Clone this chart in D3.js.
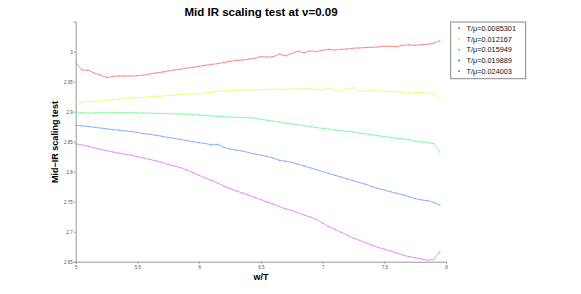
<!DOCTYPE html>
<html><head><meta charset="utf-8">
<script src="https://cdn.jsdelivr.net/npm/d3@7"></script>
<style>body{margin:0;background:#fff}svg{display:block}text{font-family:"Liberation Sans",Arial,sans-serif}</style>
</head><body><svg id="c" width="581" height="294"></svg>
<script>
const title = "Mid IR scaling test at \u03BD=0.09";
const xLabel = "w/T";
const yLabel = "Mid\u2212IR scaling test";
const xTicks = [5, 5.5, 6, 6.5, 7, 7.5, 8];
const yTicks = [2.65, 2.7, 2.75, 2.8, 2.85, 2.9, 2.95, 3];
const seriesNames = ["T/\u03BC=0.0085301","T/\u03BC=0.012167","T/\u03BC=0.015949","T/\u03BC=0.019889","T/\u03BC=0.024003"];
const seriesColors = ["#ff9090","#eeff80","#88ffaa","#90b4ff","#f090ff"];
const markerColors = ["#ff4040","#d8f040","#40f070","#4080ff","#e040ff"];
const wT = [5.00,5.05,5.10,5.15,5.20,5.25,5.30,5.35,5.40,5.45,5.50,5.55,5.60,5.65,5.70,5.75,5.80,5.85,5.90,5.95,
6.00,6.05,6.10,6.15,6.20,6.25,6.30,6.35,6.40,6.45,6.50,6.55,6.60,6.65,6.70,6.75,6.80,6.85,6.90,6.95,
7.00,7.05,7.10,7.15,7.20,7.25,7.30,7.35,7.40,7.45,7.50,7.55,7.60,7.65,7.70,7.75,7.80,7.85,7.90,7.95];
const red = [2.982,2.9695,2.969,2.9645,2.961,2.957,2.9587,2.9595,2.9595,2.9595,2.960,2.961,2.963,2.9645,2.966,2.968,2.9695,2.9707,2.9728,2.974,
2.9757,2.9773,2.9787,2.980,2.982,2.984,2.9853,2.986,2.9878,2.989,2.9917,2.991,2.9917,2.9962,2.9933,2.997,3.001,2.998,3.0012,3.0003,
3.0023,3.004,3.0028,3.004,3.0045,3.0057,3.0062,3.007,3.0073,3.0078,3.0092,3.009,3.0083,3.0107,3.0115,3.0107,3.0115,3.0123,3.0142,3.0183];
const yellow = [2.9157,2.916,2.9173,2.9173,2.918,2.919,2.920,2.9207,2.9215,2.9225,2.9233,2.924,2.9248,2.9257,2.926,2.927,2.9278,2.9287,2.9292,2.9295,
2.930,2.9312,2.9323,2.9337,2.9345,2.935,2.9358,2.936,2.936,2.936,2.9367,2.9373,2.9375,2.9375,2.9373,2.9378,2.938,2.9378,2.9383,2.937,
2.9367,2.9393,2.937,2.9345,2.9378,2.9398,2.9337,2.934,2.9365,2.9348,2.934,2.9333,2.9333,2.932,2.9308,2.932,2.932,2.9308,2.931,2.9195];
const green = [2.8983,2.8983,2.8975,2.898,2.8983,2.898,2.8983,2.8983,2.8983,2.8983,2.898,2.8978,2.8975,2.8972,2.897,2.8967,2.8965,2.896,2.8957,2.895,
2.8945,2.894,2.893,2.8925,2.8917,2.8912,2.8905,2.8902,2.8898,2.8893,2.887,2.8857,2.8843,2.8828,2.881,2.8798,2.8783,2.8768,2.8752,2.8737,
2.8722,2.871,2.8697,2.8685,2.8672,2.866,2.8645,2.863,2.8615,2.860,2.8585,2.857,2.8558,2.8545,2.8535,2.851,2.8497,2.8485,2.8468,2.8325];
const blue = [2.8772,2.8765,2.8755,2.874,2.8728,2.8715,2.870,2.8693,2.868,2.867,2.8655,2.8633,2.8625,2.8607,2.859,2.857,2.8555,2.8537,2.8517,2.850,
2.8483,2.847,2.8448,2.8455,2.8405,2.8375,2.8362,2.8345,2.832,2.8295,2.8275,2.8255,2.8225,2.819,2.8175,2.8155,2.8125,2.8095,2.8065,2.8035,
2.800,2.797,2.794,2.791,2.788,2.785,2.782,2.779,2.775,2.772,2.7695,2.7665,2.764,2.7615,2.7585,2.7552,2.753,2.7517,2.749,2.7443];
const magenta = [2.8465,2.8445,2.8425,2.840,2.8373,2.835,2.833,2.831,2.829,2.8275,2.825,2.8228,2.8205,2.818,2.8155,2.812,2.8095,2.8065,2.803,2.7985,
2.794,2.7895,2.7855,2.781,2.776,2.772,2.768,2.7645,2.761,2.757,2.7535,2.7495,2.746,2.742,2.738,2.7353,2.7317,2.728,2.7245,2.7205,
2.7145,2.7085,2.7035,2.699,2.6945,2.689,2.6855,2.6812,2.6775,2.6737,2.671,2.668,2.6645,2.6612,2.6585,2.6565,2.6545,2.6525,2.6535,2.6665];
const seriesValues = [red, yellow, green, blue, magenta];

const svg = d3.select("#c");
const x = d3.scaleLinear().domain([5, 8]).range([75.7, 446]);
const y = d3.scaleLinear().domain([2.65, 3.05]).range([261.7, 21.7]);

const xAxis = svg.append("g").attr("transform", "translate(0,261.7)")
  .call(d3.axisBottom(x).tickValues(xTicks).tickSize(2).tickPadding(2).tickFormat(d3.format("")));
const yAxis = svg.append("g").attr("transform", "translate(75.7,0)")
  .call(d3.axisLeft(y).tickValues(yTicks).tickSize(2).tickPadding(1).tickFormat(d3.format("")));
[xAxis, yAxis].forEach(g => {
  g.select(".domain").attr("stroke", "#999").attr("stroke-width", 1);
  g.selectAll(".tick line").attr("stroke", "#999");
  g.selectAll(".tick text").attr("fill", "#555").attr("font-size", 4.5).attr("font-family", "Liberation Sans, Arial, sans-serif");
});

const line = d3.line().x((d, i) => x(wT[i])).y(d => y(d));
seriesValues.forEach((vals, s) => {
  svg.append("path").datum(vals).attr("d", line)
    .attr("fill", "none").attr("stroke", seriesColors[s]).attr("stroke-width", 1);
  svg.append("g").selectAll("rect").data(vals).join("rect")
    .attr("x", (d, i) => x(wT[i]) - 0.75).attr("y", d => y(d) - 0.75)
    .attr("width", 1.5).attr("height", 1.5)
    .attr("fill", markerColors[s]).attr("opacity", 0.3);
});

svg.append("text").attr("x", 261).attr("y", 16).attr("text-anchor", "middle")
  .attr("font-weight", "bold").attr("font-size", 11.5).text(title);
svg.append("text").attr("x", 261).attr("y", 280).attr("text-anchor", "middle")
  .attr("font-weight", "bold").attr("font-size", 9).text(xLabel);
svg.append("text").attr("transform", "translate(58,142) rotate(-90)").attr("text-anchor", "middle")
  .attr("font-weight", "bold").attr("font-size", 9).text(yLabel);

const lg = svg.append("g");
lg.append("rect").attr("x", 450.7).attr("y", 22).attr("width", 75).attr("height", 56.7)
  .attr("fill", "#fff").attr("stroke", "#888").attr("stroke-width", 1);
seriesNames.forEach((n, s) => {
  const yy = 28.3 + s * 10.7;
  lg.append("rect").attr("x", 458.2).attr("y", yy - 0.9).attr("width", 1.8).attr("height", 1.8).attr("fill", markerColors[s]);
  lg.append("text").attr("x", 466.5).attr("y", yy + 2.6).attr("font-size", 7.3).attr("fill", "#111").text(n);
});
</script></body></html>
